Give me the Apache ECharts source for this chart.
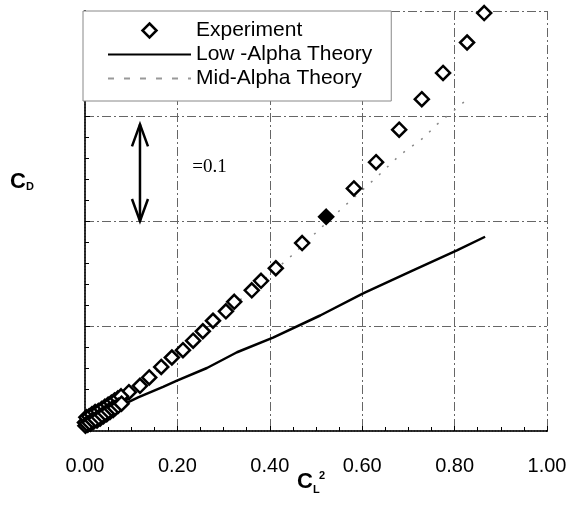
<!DOCTYPE html>
<html>
<head>
<meta charset="utf-8">
<script src="https://cdn.jsdelivr.net/npm/echarts@6/dist/echarts.min.js"></script>
<style>html,body{margin:0;padding:0;background:#fff;}#c{width:572px;height:506px;}</style>
</head>
<body>
<div id="c"></div>
<script>
// ---- data ----
const xTicks = [0, 0.2, 0.4, 0.6, 0.8, 1.0];
const expX = [0.864,0.827,0.775,0.729,0.680,0.630,0.582,0.522,0.470,0.413,0.381,0.361,0.323,0.305,0.277,0.255,0.234,0.212,0.188,0.165,0.139,0.119,0.095,0.076,
  0.070,0.066,0.063,0.059,0.056,0.052,0.049,0.045,0.041,0.038,0.034,0.031,0.027,0.024,0.020,0.017,0.013,0.010,0.007,0.004,0.002,0.000,
  0.068,0.061,0.054,0.047,0.040,0.033,0.026,0.019,0.012,0.006,0.001,
  0.003,0.009,0.015,0.022,0.029,0.036,0.043,0.050,0.057,0.064,0.071,0.078,
  0.004,0.010,0.016,0.023,0.030,0.037,0.044,0.051,0.058,0.065,0.072,0.079];
const expY = [0.398,0.370,0.341,0.316,0.287,0.256,0.231,0.204,0.179,0.155,0.143,0.134,0.123,0.114,0.105,0.095,0.086,0.077,0.070,0.061,0.051,0.043,0.037,0.030,
  0.028,0.027,0.026,0.024,0.023,0.022,0.021,0.020,0.019,0.018,0.017,0.016,0.015,0.014,0.013,0.012,0.011,0.010,0.009,0.009,0.008,0.008,
  0.023,0.020,0.018,0.016,0.014,0.012,0.010,0.009,0.007,0.006,0.005,
  0.013,0.014,0.016,0.018,0.019,0.021,0.023,0.025,0.027,0.029,0.031,0.033,
  0.007,0.008,0.010,0.011,0.013,0.015,0.017,0.019,0.021,0.022,0.024,0.026];
const filledIndex = 7;
const lowX = [0.000,0.115,0.169,0.199,0.264,0.329,0.407,0.509,0.602,0.710,0.805,0.866];
const lowY = [0.0076,0.032,0.042,0.048,0.060,0.075,0.089,0.110,0.131,0.153,0.172,0.185];
const midX = [0.000,0.050,0.100,0.150,0.200,0.250,0.300,0.350,0.400,0.450,0.500,0.556,0.632,0.682,0.732,0.762,0.812,0.829];
const midY = [0.008,0.022,0.037,0.055,0.074,0.093,0.112,0.130,0.149,0.168,0.189,0.212,0.242,0.263,0.279,0.292,0.310,0.317];
const names = ['Experiment', 'Low -Alpha Theory', 'Mid-Alpha Theory'];
const arrowX = 0.119, arrowY0 = 0.2, arrowY1 = 0.292;
const noteText = '=0.1', notePos = [0.232, 0.251];

const chart = echarts.init(document.getElementById('c'));
const font = 'Liberation Sans, Arial, sans-serif';
const gridLine = {show: true, lineStyle: {color: '#666', width: 1, type: [9, 3, 2, 3]}};

const expData = expX.map((x, i) => i === filledIndex
  ? {value: [x, expY[i]], itemStyle: {color: '#000'}}
  : [x, expY[i]]);

chart.setOption({
  animation: false,
  grid: {left: 85, right: 25, top: 11, bottom: 75},
  legend: {
    orient: 'vertical', left: 83, top: 11,
    padding: [9, 19, 12, 24], itemGap: 3,
    itemWidth: 83, itemHeight: 14,
    backgroundColor: '#fff', borderColor: '#888', borderWidth: 1,
    textStyle: {fontFamily: font, fontSize: 21, color: '#000'},
    data: [
      {name: names[0], icon: 'path://M0,-1L1,0L0,1L-1,0Z', itemStyle: {color: '#fff', borderColor: '#000', borderWidth: 2.5}},
      {name: names[1], itemStyle: {opacity: 0}},
      {name: names[2], itemStyle: {opacity: 0}, lineStyle: {type: [6, 10], color: '#999'}}
    ],
    z: 10
  },
  xAxis: [{
    type: 'value', min: 0, max: 1, interval: 0.2,
    axisLine: {lineStyle: {color: '#000', width: 2}},
    axisTick: {inside: true, length: 5, lineStyle: {color: '#000'}},
    minorTick: {show: true, splitNumber: 4, length: 4, lineStyle: {color: '#000'}},
    splitLine: gridLine,
    axisLabel: {formatter: v => v.toFixed(2), fontFamily: font, fontSize: 20, color: '#000', margin: 25}
  }, {
    type: 'value', min: 0, max: 1, position: 'top',
    axisLine: {show: true, lineStyle: {color: '#444', width: 1.5, type: 'dotted'}},
    axisTick: {show: false}, axisLabel: {show: false}, splitLine: {show: false}
  }],
  yAxis: [{
    type: 'value', min: 0, max: 0.4, interval: 0.1,
    axisLine: {show: true, lineStyle: {color: '#000', width: 2}},
    axisTick: {inside: true, length: 5, lineStyle: {color: '#000'}},
    minorTick: {show: true, splitNumber: 5, length: 4, lineStyle: {color: '#000'}},
    splitLine: gridLine,
    axisLabel: {show: false}
  }, {
    type: 'value', min: 0, max: 0.4, position: 'right',
    axisLine: {show: true, lineStyle: {color: '#444', width: 1.5, type: 'dotted'}},
    axisTick: {show: false}, axisLabel: {show: false}, splitLine: {show: false}
  }],
  series: [{
    name: names[2], type: 'line', symbol: 'none', z: 2,
    lineStyle: {color: '#888', width: 1.5, type: [2, 9]},
    itemStyle: {color: '#888'},
    data: midX.map((x, i) => [x, midY[i]])
  }, {
    name: names[1], type: 'line', symbol: 'none', z: 3,
    lineStyle: {color: '#000', width: 2.5},
    itemStyle: {color: '#000'},
    data: lowX.map((x, i) => [x, lowY[i]])
  }, {
    name: names[0], type: 'scatter', symbol: 'diamond', symbolSize: 14, z: 4,
    itemStyle: {color: '#fff', borderColor: '#000', borderWidth: 2.5, opacity: 1},
    data: expData
  }]
});

const p0 = chart.convertToPixel({gridIndex: 0}, [arrowX, arrowY0]);
const p1 = chart.convertToPixel({gridIndex: 0}, [arrowX, arrowY1]);
const pn = chart.convertToPixel({gridIndex: 0}, notePos);
const ax = p0[0], yb = p0[1], yt = p1[1];
const st = {stroke: '#000', lineWidth: 2.5, fill: null};
chart.setOption({
  graphic: [
    {type: 'line', shape: {x1: ax, y1: yt, x2: ax, y2: yb}, style: st, z: 20},
    {type: 'polyline', shape: {points: [[ax - 8, yt + 22], [ax, yt], [ax + 8, yt + 22]]}, style: st, z: 20},
    {type: 'polyline', shape: {points: [[ax - 8, yb - 22], [ax, yb], [ax + 8, yb - 22]]}, style: st, z: 20},
    {type: 'text', x: pn[0], y: pn[1], style: {text: noteText, font: '19px "Liberation Serif", serif', fill: '#000', textVerticalAlign: 'middle'}, z: 20},
    {type: 'text', x: 10, y: 171, style: {text: 'C', font: 'bold 22px "Liberation Sans", Arial', fill: '#000'}},
    {type: 'text', x: 26, y: 181, style: {text: 'D', font: 'bold 11px "Liberation Sans", Arial', fill: '#000'}},
    {type: 'text', x: 297, y: 471, style: {text: 'C', font: 'bold 22px "Liberation Sans", Arial', fill: '#000'}},
    {type: 'text', x: 313, y: 484, style: {text: 'L', font: 'bold 11px "Liberation Sans", Arial', fill: '#000'}},
    {type: 'text', x: 319, y: 470, style: {text: '2', font: 'bold 11px "Liberation Sans", Arial', fill: '#000'}}
  ]
});
</script>
</body>
</html>
